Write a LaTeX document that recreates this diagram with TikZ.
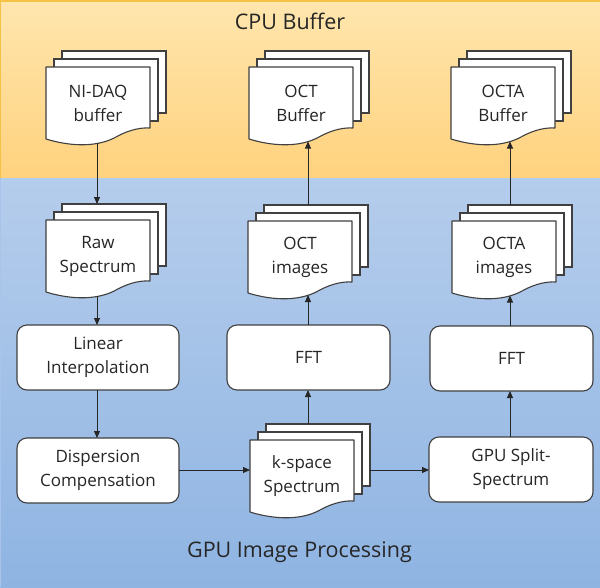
\documentclass[tikz,border=0pt]{standalone}
\usepackage{fontspec}
\setmainfont{Open Sans}
\usetikzlibrary{arrows.meta}
\definecolor{orgtop}{HTML}{FFE6AE}
\definecolor{orgbot}{HTML}{FFD27E}
\definecolor{orgline}{HTML}{F4C244}
\definecolor{blutop}{HTML}{B5CDEC}
\definecolor{blubot}{HTML}{8FB4E2}
\definecolor{bluline}{HTML}{A8C4EA}
\definecolor{edge}{HTML}{404040}
\definecolor{txt}{HTML}{262626}
\tikzset{
  procbox/.style={draw=edge,fill=white,line width=1.1pt,rounded corners=10pt},
  page/.style={draw=edge,fill=white,line width=1.1pt},
  lbl/.style={font=\fontsize{17}{24}\selectfont,text=txt,align=center,inner sep=0pt},
  title/.style={font=\fontsize{21.5}{26}\selectfont,text=txt,inner sep=0pt},
  conn/.style={draw=black!85,line width=0.9pt},
  arr/.style={conn,-{Triangle[length=7pt,width=6pt]}}
}
% \docstack{name}{x}{y}{text}: (x,y) = top-left of front page
\newcommand{\docstack}[4]{%
  \begin{scope}[shift={(#2,#3)}]
    \draw[page] (16,-16) rectangle (120,46);
    \draw[page] (8,-8) rectangle (112,54);
    \draw[page,line join=round] (0,0) -- (104,0) -- (104,61)
      .. controls (96,60.5) and (84.4,62) .. (70,70)
      .. controls (52,80) and (26,80) .. (0,72) -- cycle;
    \node[lbl] (#1) at (52,36.5) {#4};
  \end{scope}}
\begin{document}
\begin{tikzpicture}[x=1pt,y=-1pt]
\useasboundingbox (0,0) rectangle (600,587);
% bands
\shade[top color=orgtop,bottom color=orgbot] (0,0) rectangle (600,178);
\draw[orgline,line width=1.5pt] (0,0.75) -- (600,0.75);
\draw[orgline,line width=0.8pt] (0.4,0) -- (0.4,178);
\shade[top color=blutop,bottom color=blubot] (0,178) rectangle (600,587);
\draw[bluline,line width=1.2pt] (0.6,178) -- (0.6,587);
\node[title] (cpu) at (290,21.5) {CPU Buffer};
\node[title] (gpu) at (299.5,552) {GPU Image Processing};
% documents
\docstack{nidaq}{46}{67}{NI-DAQ\\buffer}
\docstack{octbuf}{249}{67}{OCT\\Buffer}
\docstack{octabuf}{451}{67}{OCTA\\Buffer}
\docstack{raw}{46}{220}{Raw\\Spectrum}
\docstack{octimg}{248}{221}{OCT\\images}
\docstack{octaimg}{452}{221}{OCTA\\images}
\docstack{kspace}{250}{440}{k-space\\Spectrum}
% process boxes
\draw[procbox] (17,325) rectangle (179,390);
\node[lbl] (linint) at (98,357.5) {Linear\\Interpolation};
\draw[procbox] (17,438) rectangle (179,503);
\node[lbl] (disp) at (98,470.5) {Dispersion\\Compensation};
\draw[procbox] (227,325) rectangle (390,390);
\node[lbl] (fft1) at (308.5,357.5) {FFT};
\draw[procbox] (430,326) rectangle (593,391);
\node[lbl] (fft2) at (511.5,358.5) {FFT};
\draw[procbox] (429,437) rectangle (593,502);
\node[lbl] (split) at (511,469.5) {GPU Split-\\Spectrum};
% anchor coordinates
\coordinate (nidaq-b) at (97,143);
\coordinate (raw-t) at (97,204);
\coordinate (raw-b) at (97,296);
\coordinate (linint-t) at (97,325);
\coordinate (linint-b) at (97,390);
\coordinate (disp-t) at (97,438);
\coordinate (disp-r) at (179,470);
\coordinate (kspace-l) at (250,470);
\coordinate (kspace-r) at (370,470);
\coordinate (split-l) at (429,470);
\coordinate (kspace-t) at (308,424);
\coordinate (fft1-b) at (308,390);
\coordinate (fft1-t) at (308,325);
\coordinate (octimg-b) at (308,295);
\coordinate (octimg-t) at (308,205);
\coordinate (octbuf-b) at (308,141.5);
\coordinate (split-t) at (510,437);
\coordinate (fft2-b) at (510,391);
\coordinate (fft2-t) at (510,326);
\coordinate (octaimg-b) at (510,295.5);
\coordinate (octaimg-t) at (510,205);
\coordinate (octabuf-b) at (510,141.5);
% connectors
\draw[arr] (nidaq-b) -- (raw-t);
\draw[arr] (raw-b) -- (linint-t);
\draw[arr] (linint-b) -- (disp-t);
\draw[arr] (disp-r) -- (kspace-l);
\draw[arr] (kspace-r) -- (split-l);
\draw[arr] (kspace-t) -- (fft1-b);
\draw[arr] (fft1-t) -- (octimg-b);
\draw[arr] (octimg-t) -- (octbuf-b);
\draw[arr] (split-t) -- (fft2-b);
\draw[arr] (fft2-t) -- (octaimg-b);
\draw[arr] (octaimg-t) -- (octabuf-b);
\end{tikzpicture}
\end{document}
